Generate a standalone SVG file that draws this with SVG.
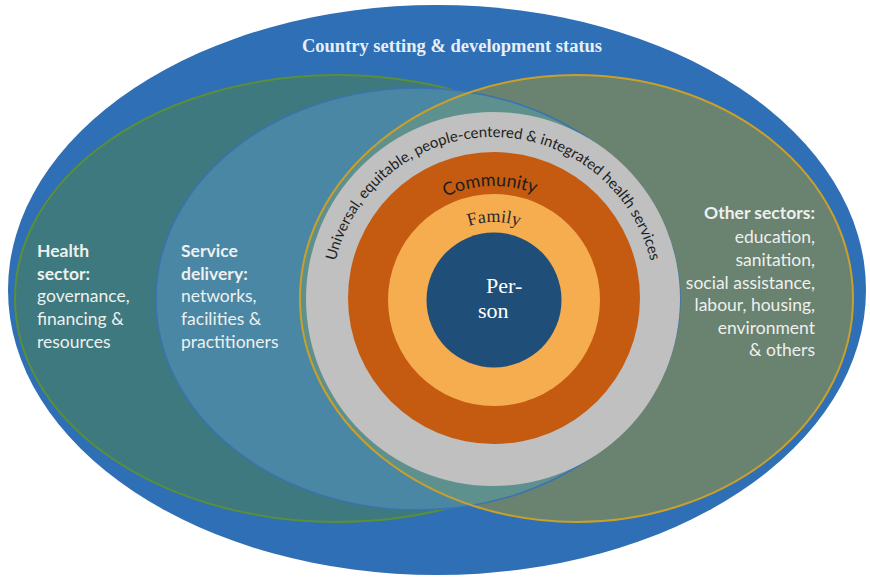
<svg xmlns="http://www.w3.org/2000/svg" width="870" height="578" viewBox="0 0 870 578">
<style>
.lbl{font-family:Lato,"Open Sans","DejaVu Sans",sans-serif;font-size:17.5px;fill:#eef0ee}
.b{font-weight:bold}
.arc{font-family:Lato,"Open Sans","DejaVu Sans",sans-serif;fill:#1e1e1e}
</style>
<defs>
<clipPath id="clipRight"><ellipse cx="576.5" cy="298.5" rx="276.5" ry="223.5"/></clipPath>
<path id="arcServices" d="M331,299 A162,162 0 0 1 655,299"/>
<path id="arcCommunity" d="M434.1,203.2 A113,113 0 0 1 547.05,199.2"/>
<path id="arcFamily" d="M455.5,232.3 A77,77 0 0 1 532.5,232.3"/>
</defs>
<rect width="870" height="578" fill="#ffffff"/>
<g id="country">
<ellipse cx="437" cy="290" rx="429" ry="285" fill="#2f6fb5"/>
<text x="452" y="52" text-anchor="middle" font-family="'Liberation Serif','Times New Roman',serif" font-weight="bold" font-size="18.5" fill="#e8eef6">Country setting &amp; development status</text>
</g>
<g id="health-sector">
<ellipse cx="337" cy="298.5" rx="322" ry="223.5" fill="#3d797e" stroke="#5a8f3a" stroke-width="2"/>
</g>
<g id="service-delivery">
<ellipse cx="418" cy="299" rx="262" ry="211" fill="#4a87a5"/>
</g>
<g id="other-sectors">
<ellipse cx="576.5" cy="298.5" rx="276.5" ry="223.5" fill="#6a8270"/>
<ellipse cx="418" cy="299" rx="262" ry="211" fill="#5e918d" clip-path="url(#clipRight)"/>
<ellipse cx="418" cy="299" rx="262" ry="211" fill="none" stroke="#3a73b0" stroke-width="1.5"/>
<ellipse cx="576.5" cy="298.5" rx="276.5" ry="223.5" fill="none" stroke="#c9a02a" stroke-width="2"/>
</g>
<g id="services-ring">
<circle cx="493" cy="299" r="187" fill="#c0c0c0"/>
<text class="arc" font-size="15"><textPath href="#arcServices" startOffset="50%" text-anchor="middle">Universal, equitable, people-centered &amp; integrated health services</textPath></text>
</g>
<g id="community">
<circle cx="494" cy="298" r="146" fill="#c55a11"/>
<text class="arc" font-size="18"><textPath href="#arcCommunity" startOffset="50%" text-anchor="middle">Community</textPath></text>
</g>
<g id="family">
<circle cx="494" cy="300" r="106" fill="#f6ad4f"/>
<text font-family="'Liberation Serif','Times New Roman',serif" font-size="18" fill="#2a2a2a"><textPath href="#arcFamily" startOffset="50%" text-anchor="middle">Family</textPath></text>
</g>
<g id="person">
<circle cx="494" cy="300" r="67.5" fill="#1f4e79"/>
<text font-family="'Liberation Serif','Times New Roman',serif" font-size="22" fill="#ffffff"><tspan x="486" y="293">Per-</tspan><tspan x="478" y="318">son</tspan></text>
</g>
<g id="health-sector-label">
<text class="lbl"><tspan class="b" x="37" y="257">Health</tspan><tspan class="b" x="37" y="280">sector:</tspan><tspan x="37" y="302">governance,</tspan><tspan x="37" y="325">financing &amp;</tspan><tspan x="37" y="348">resources</tspan></text>
</g>
<g id="service-delivery-label">
<text class="lbl"><tspan class="b" x="181" y="257">Service</tspan><tspan class="b" x="181" y="280">delivery:</tspan><tspan x="181" y="302">networks,</tspan><tspan x="181" y="325">facilities &amp;</tspan><tspan x="181" y="348">practitioners</tspan></text>
</g>
<g id="other-sectors-label">
<text class="lbl" text-anchor="end"><tspan class="b" x="815" y="219">Other sectors:</tspan><tspan x="815" y="243">education,</tspan><tspan x="815" y="266">sanitation,</tspan><tspan x="815" y="289">social assistance,</tspan><tspan x="815" y="311">labour, housing,</tspan><tspan x="815" y="334">environment</tspan><tspan x="815" y="356">&amp; others</tspan></text>
</g>
</svg>
